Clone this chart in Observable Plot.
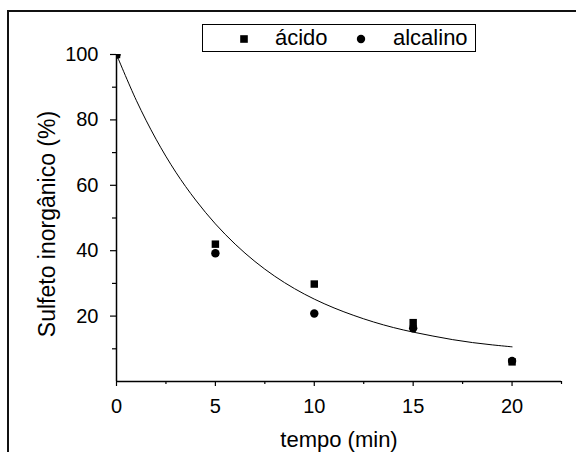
<!DOCTYPE html>
<html>
<head>
<meta charset="utf-8">
<script src="https://cdn.jsdelivr.net/npm/d3@7"></script>
<script src="https://cdn.jsdelivr.net/npm/@observablehq/plot@0.6"></script>
<style>
  html, body { margin: 0; padding: 0; background: #fff; overflow: hidden; }
  #wrap { position: relative; width: 576px; height: 452px; overflow: hidden; font-family: "Liberation Sans", Arial, sans-serif; }
  #frame { position: absolute; left: 7px; top: 10px; width: 700px; height: 600px; border-left: 2px solid #111; border-top: 2px solid #111; box-sizing: border-box; }
  #chart { position: absolute; left: 0; top: 0; }
  #legend { position: absolute; left: 202px; top: 24px; width: 274px; height: 28px; border: 1px solid #000; box-sizing: border-box; background: #fff; }
  #legend .sym { position: absolute; top: 9px; }
  #legend .lab { position: absolute; top: 0px; font-size: 22px; line-height: 25px; color: #000; }
</style>
</head>
<body>
<div id="wrap">
  <div id="frame"></div>
  <div id="chart"></div>
  <div id="legend"></div>
</div>
<script>
// ---- data ----
const tempo = [0, 5, 10, 15, 20];
const acido = [100, 42.0, 29.8, 18.0, 6.0];
const alcalino = [100, 39.2, 20.8, 16.3, 6.3];

// fitted curve
const fitTempo = [0,1,2,3,4,5,6,7,8,9,10,11,12,13,14,15,16,17,18,19,20];
const fitValor = [100,86.0,74.1,64.0,55.5,48.2,42.0,36.7,32.2,28.4,25.2,22.5,20.2,18.2,16.5,15.1,13.9,12.8,11.9,11.2,10.6];

const xTicks = [0, 5, 10, 15, 20];
const xMinor = [2.5, 7.5, 12.5, 17.5, 22.5];
const yTicks = [20, 40, 60, 80, 100];
const yMinor = [10, 30, 50, 70, 90];

const seriesNames = ["ácido", "alcalino"];
const xTitle = "tempo (min)";
const yTitle = "Sulfeto inorgânico (%)";

// ---- build ----
const ptsA = tempo.map((t, i) => ({t, v: acido[i]}));
const ptsB = tempo.map((t, i) => ({t, v: alcalino[i]}));
const fit = fitTempo.map((t, i) => ({t, v: fitValor[i]}));

const font = "Liberation Sans, Arial, sans-serif";

const chart = Plot.plot({
  width: 576,
  height: 452,
  marginLeft: 116,
  marginRight: 15,
  marginTop: 54,
  marginBottom: 71,
  style: {fontFamily: font, background: "transparent", color: "#000", overflow: "visible"},
  x: {domain: [0, 22.5]},
  y: {domain: [0, 100]},
  marks: [
    Plot.line(fit, {x: "t", y: "v", curve: "catmull-rom", stroke: "#000", strokeWidth: 1, clip: true}),
    Plot.dot(ptsA, {x: "t", y: "v", symbol: "square", r: 4.2, fill: "#000", stroke: "none", clip: true}),
    Plot.dot(ptsB, {x: "t", y: "v", symbol: "circle", r: 4.2, fill: "#000", stroke: "none", clip: true}),
    Plot.ruleY([0], {stroke: "#000", strokeWidth: 1.5}),
    Plot.ruleX([0], {stroke: "#000", strokeWidth: 1.5}),
    Plot.axisX({ticks: xTicks, tickSize: 5, tickPadding: 12, fontSize: 20, label: null, stroke: "#000", strokeWidth: 1.2, tickFormat: d => String(d)}),
    Plot.axisX({ticks: xMinor, tickSize: 3, text: null, label: null, stroke: "#000", strokeWidth: 1.2}),
    Plot.axisY({ticks: yTicks, tickSize: 6, tickPadding: 12, fontSize: 20, label: null, stroke: "#000", strokeWidth: 1.2, tickFormat: d => String(d)}),
    Plot.axisY({ticks: yMinor, tickSize: 4, text: null, label: null, stroke: "#000", strokeWidth: 1.2}),
    Plot.text([yTitle], {frameAnchor: "left", textAnchor: "middle", lineAnchor: "middle", rotate: -90, dx: -69, dy: 6, fontSize: 23, fill: "#000"}),
    Plot.text([xTitle], {frameAnchor: "bottom", textAnchor: "middle", lineAnchor: "middle", dy: 58, fontSize: 22, fill: "#000"})
  ]
});
document.getElementById("chart").appendChild(chart);

// ---- legend (HTML) ----
const legend = document.getElementById("legend");
const items = [
  {name: seriesNames[0], sym: "square", symX: 36, labX: 72},
  {name: seriesNames[1], sym: "circle", symX: 153, labX: 190}
];
for (const it of items) {
  const s = document.createElementNS("http://www.w3.org/2000/svg", "svg");
  s.setAttribute("width", 10); s.setAttribute("height", 10);
  s.setAttribute("class", "sym");
  s.style.left = it.symX + "px";
  if (it.sym === "square") {
    s.innerHTML = '<rect x="1.2" y="1.2" width="7.6" height="7.6" fill="#000"/>';
  } else {
    s.innerHTML = '<circle cx="5" cy="5" r="4.2" fill="#000"/>';
  }
  legend.appendChild(s);
  const l = document.createElement("span");
  l.className = "lab";
  l.style.left = it.labX + "px";
  l.textContent = it.name;
  legend.appendChild(l);
}
</script>
</body>
</html>
